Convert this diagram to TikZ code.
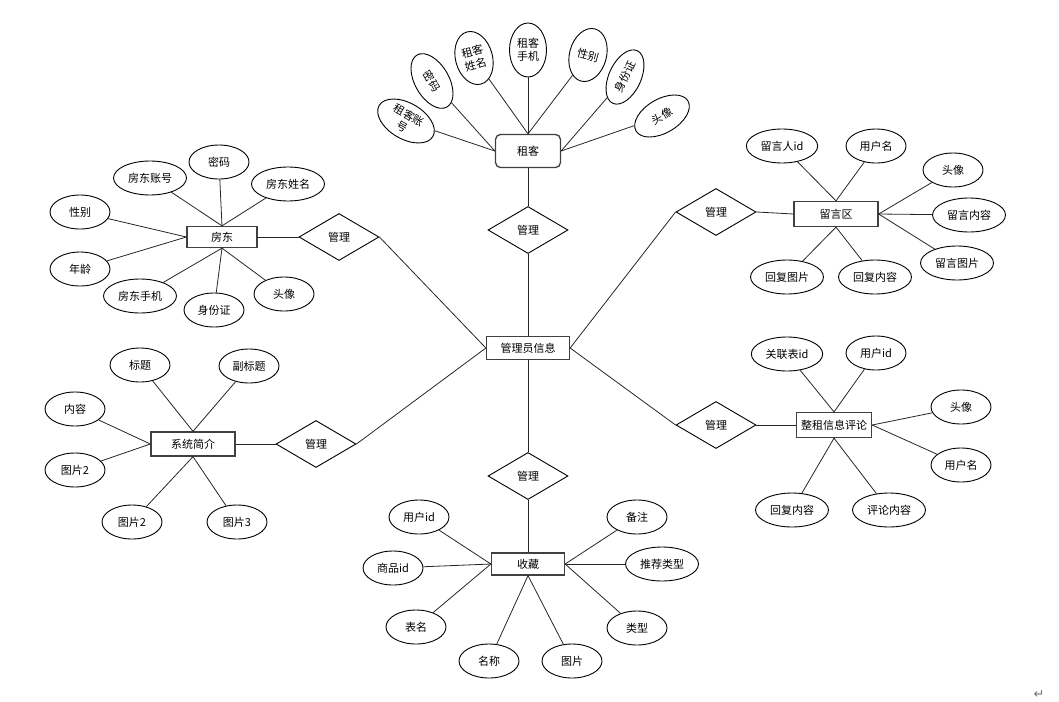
\documentclass[tikz,border=0pt]{standalone}
\usepackage{fontspec}
\setmainfont{Noto Sans CJK SC}
\newfontfamily\dejavu{DejaVu Sans}
\usetikzlibrary{shapes.geometric}
\begin{document}
\begin{tikzpicture}[x=1pt,y=-1pt,
  every node/.style={font=\fontsize{11pt}{13pt}\selectfont, text=black},
  attr/.style={ellipse, draw=black, line width=0.9pt, minimum width=60pt, minimum height=34pt, inner xsep=3.8pt, inner ysep=1pt, align=center},
  vattr/.style={ellipse, draw=black, line width=0.9pt, minimum width=37pt, minimum height=54pt, inner sep=0pt, align=center},
  ent/.style={rectangle, draw=black!75, line width=1.3pt, minimum height=23pt, inner xsep=3pt},
  rel/.style={diamond, draw=black, line width=0.9pt, minimum width=80pt, minimum height=47pt, inner sep=0pt, aspect=1.7},
  conn/.style={draw=black!85, line width=0.8pt}
]
\useasboundingbox (0,0) rectangle (1059,701);

% ---------- entities ----------
\node[ent, minimum width=83pt] (M) at (528,348) {管理员信息};
\node[ent, minimum width=65pt, minimum height=33pt, rounded corners=5pt] (R) at (528,151) {租客};
\node[ent, minimum width=73pt, minimum height=22pt] (C) at (528,564) {收藏};
\node[ent, minimum width=70pt, minimum height=21pt] (F) at (222,237) {房东};
\node[ent, minimum width=84pt, minimum height=24pt] (S) at (193,444) {系统简介};
\node[ent, minimum width=84pt, minimum height=25pt] (L) at (836,214) {留言区};
\node[ent, minimum width=75pt, minimum height=25pt, inner xsep=1pt] (Z) at (834,425) {整租信息评论};

% ---------- relationships ----------
\node[rel] (dR) at (528,230) {管理};
\node[rel] (dC) at (528,476) {管理};
\node[rel] (dF) at (339,237) {管理};
\node[rel] (dS) at (316,444) {管理};
\node[rel] (dL) at (716,212) {管理};
\node[rel] (dZ) at (716,425) {管理};

\draw[conn] (M.north) -- (dR.south);
\draw[conn] (dR.north) -- (R.south);
\draw[conn] (M.south) -- (dC.north);
\draw[conn] (dC.south) -- (C.north);
\draw[conn] (F.east) -- (dF.west);
\draw[conn] (dF.east) -- (M.west);
\draw[conn] (S.east) -- (dS.west);
\draw[conn] (dS.east) -- (M.west);
\draw[conn] (M.east) -- (dL.west);
\draw[conn] (dL.east) -- (L.west);
\draw[conn] (M.east) -- (dZ.west);
\draw[conn] (dZ.east) -- (Z.west);

% ---------- 租客 attributes ----------
\node[attr, minimum width=62pt, minimum height=36pt, inner sep=0pt, rotate=-30] (r1) at (406,121) {租客账\\号};
\node[attr, rotate=-60] (r2) at (432,81) {密码};
\node[vattr, rotate=15] (r3) at (474,58) {租客\\姓名};
\node[vattr] (r4) at (528,50) {租客\\手机};
\node[vattr, rotate=-15] (r5) at (588,55) {性别};
\node[attr, minimum width=58pt, minimum height=32pt, rotate=65] (r6) at (625,77) {身份证};
\node[attr, rotate=30] (r7) at (662,116) {头像};
\draw[conn] (r1) -- (R.west);
\draw[conn] (r2) -- (R.west);
\draw[conn] (r3) -- (R.north);
\draw[conn] (r4) -- (R.north);
\draw[conn] (r5) -- (R.north);
\draw[conn] (r6) -- (R.east);
\draw[conn] (r7) -- (R.east);

% ---------- 房东 attributes ----------
\node[attr] (f1) at (150,178) {房东账号};
\node[attr] (f2) at (219,162) {密码};
\node[attr] (f3) at (288,184) {房东姓名};
\node[attr] (f4) at (80,212) {性别};
\node[attr] (f5) at (80,269) {年龄};
\node[attr] (f6) at (140,296) {房东手机};
\node[attr] (f7) at (214,310) {身份证};
\node[attr] (f8) at (284,294) {头像};
\foreach \a in {f1,f2,f3} \draw[conn] (\a) -- (F.north);
\foreach \a in {f4,f5} \draw[conn] (\a) -- (F.west);
\foreach \a in {f6,f7,f8} \draw[conn] (\a) -- (F.south);

% ---------- 系统简介 attributes ----------
\node[attr] (s1) at (140,365) {标题};
\node[attr] (s2) at (249,366) {副标题};
\node[attr] (s3) at (75,409) {内容};
\node[attr] (s4) at (75,470) {图片2};
\node[attr] (s5) at (132,522) {图片2};
\node[attr] (s6) at (237,522) {图片3};
\foreach \a in {s1,s2} \draw[conn] (\a) -- (S.north);
\foreach \a in {s3,s4} \draw[conn] (\a) -- (S.west);
\foreach \a in {s5,s6} \draw[conn] (\a) -- (S.south);

% ---------- 收藏 attributes ----------
\node[attr] (c1) at (419,517) {用户id};
\node[attr] (c2) at (393,568) {商品id};
\node[attr] (c3) at (416,627) {表名};
\node[attr] (c4) at (489,661) {名称};
\node[attr] (c5) at (572,661) {图片};
\node[attr] (c6) at (637,628) {类型};
\node[attr] (c7) at (662,564) {推荐类型};
\node[attr] (c8) at (637,517) {备注};
\foreach \a in {c1,c2,c3} \draw[conn] (\a) -- (C.west);
\foreach \a in {c4,c5} \draw[conn] (\a) -- (C.south);
\foreach \a in {c6,c7,c8} \draw[conn] (\a) -- (C.east);

% ---------- 留言区 attributes ----------
\node[attr] (l1) at (782,146) {留言人id};
\node[attr] (l2) at (876,146) {用户名};
\node[attr] (l3) at (953,170) {头像};
\node[attr] (l4) at (969,215) {留言内容};
\node[attr] (l5) at (957,263) {留言图片};
\node[attr] (l6) at (787,277) {回复图片};
\node[attr] (l7) at (875,277) {回复内容};
\foreach \a in {l1,l2} \draw[conn] (\a) -- (L.north);
\foreach \a in {l3,l4,l5} \draw[conn] (\a) -- (L.east);
\foreach \a in {l6,l7} \draw[conn] (\a) -- (L.south);

% ---------- 整租信息评论 attributes ----------
\node[attr] (z1) at (787,354) {关联表id};
\node[attr] (z2) at (876,353) {用户id};
\node[attr] (z3) at (961,407) {头像};
\node[attr] (z4) at (961,465) {用户名};
\node[attr] (z5) at (792,510) {回复内容};
\node[attr] (z6) at (889,510) {评论内容};
\foreach \a in {z1,z2} \draw[conn] (\a) -- (Z.north);
\foreach \a in {z3,z4} \draw[conn] (\a) -- (Z.east);
\foreach \a in {z5,z6} \draw[conn] (\a) -- (Z.south);

% ---------- return mark ----------
\node[text=black!55, font=\dejavu\fontsize{13pt}{13pt}\selectfont] (ret) at (1039,694) {↵};
\end{tikzpicture}
\end{document}
